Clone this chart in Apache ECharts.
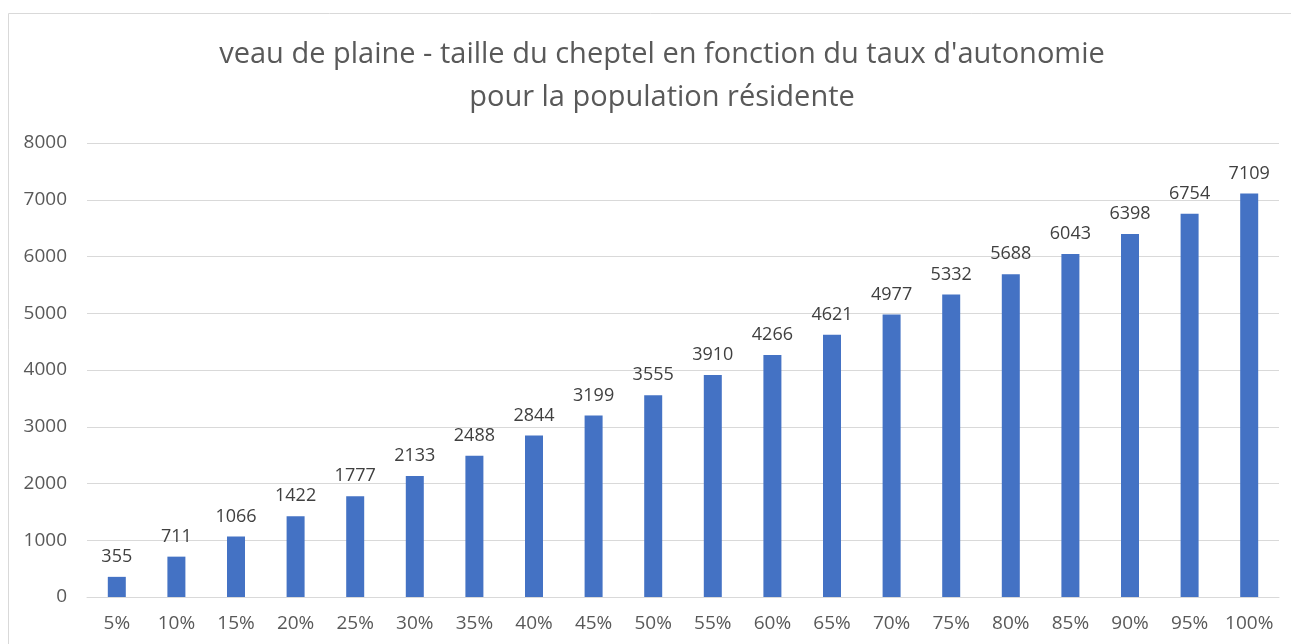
<!DOCTYPE html>
<html><head><meta charset="utf-8">
<script src="https://cdn.jsdelivr.net/npm/echarts@6/dist/echarts.min.js"></script>
<style>html,body{margin:0;padding:0;background:#fff}#c{width:1291px;height:644px}</style>
</head><body><div id="c"></div>
<script>
const categories = ["5%","10%","15%","20%","25%","30%","35%","40%","45%","50%","55%","60%","65%","70%","75%","80%","85%","90%","95%","100%"];
const values = [355,711,1066,1422,1777,2133,2488,2844,3199,3555,3910,4266,4621,4977,5332,5688,6043,6398,6754,7109];
const titleLines = ["veau de plaine - taille du cheptel en fonction du taux d'autonomie","pour la population résidente"];
const yTicks = {min:0, max:8000, interval:1000};

const chart = echarts.init(document.getElementById('c'), null, {renderer:'canvas'});
const font = '"Open Sans", sans-serif';
chart.setOption({
  animation:false,
  graphic:[{type:'rect', shape:{x:8.5,y:13.5,width:1300,height:640}, style:{fill:'none',stroke:'#d9d9d9',lineWidth:1}, silent:true}],
  title:{text:titleLines.join('\n'), left:657, textAlign:'center', top:28,
    textStyle:{fontFamily:font, fontSize:29, fontWeight:'normal', color:'#595959', lineHeight:43}},
  grid:{left:87, right:12, top:143, bottom:47, containLabel:false},
  xAxis:{type:'category', data:categories,
    axisLine:{lineStyle:{color:'#d9d9d9', width:1}}, axisTick:{show:false},
    axisLabel:{interval:0, hideOverlap:false, fontFamily:font, fontSize:19, color:'#595959', margin:17}},
  yAxis:{type:'value', min:yTicks.min, max:yTicks.max, interval:yTicks.interval,
    axisLine:{show:false}, axisTick:{show:false},
    splitLine:{lineStyle:{color:'#d9d9d9', width:1}},
    axisLabel:{fontFamily:font, fontSize:19, color:'#595959', margin:20, formatter:v=>String(v)}},
  series:[{type:'bar', data:values, barWidth:18,
    itemStyle:{color:'#4472C4'},
    label:{show:true, position:'top', distance:11, fontFamily:font, fontSize:18, color:'#404040'}}]
});
</script></body></html>
